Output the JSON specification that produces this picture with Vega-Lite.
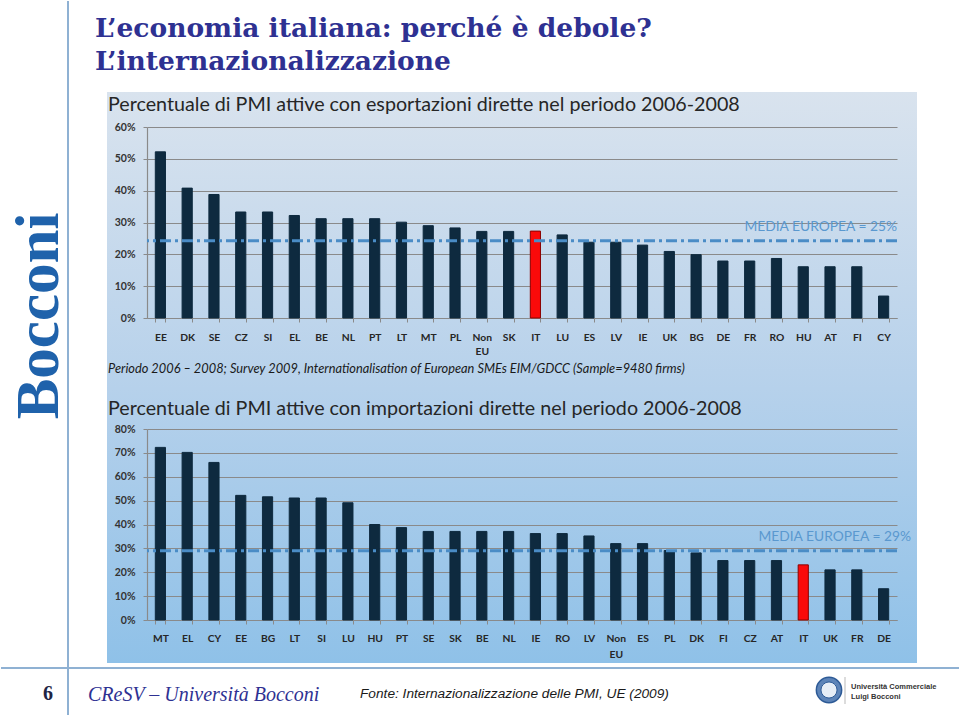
{
  "$schema": "https://vega.github.io/schema/vega-lite/v6.json",
  "padding": 0,
  "background": "white",
  "bounds": "flush",
  "spacing": 111,
  "config": {"view": {"stroke": null}, "font": "Lato"},
  "datasets": {
    "esportazioni": [
      {"paese": "EE", "quota": 52.2}, {"paese": "DK", "quota": 40.8}, {"paese": "SE", "quota": 38.8},
      {"paese": "CZ", "quota": 33.3}, {"paese": "SI", "quota": 33.3}, {"paese": "EL", "quota": 32.2},
      {"paese": "BE", "quota": 31.2}, {"paese": "NL", "quota": 31.2}, {"paese": "PT", "quota": 31.2},
      {"paese": "LT", "quota": 30.1}, {"paese": "MT", "quota": 29}, {"paese": "PL", "quota": 28.3},
      {"paese": "Non EU", "quota": 27.2}, {"paese": "SK", "quota": 27.2}, {"paese": "IT", "quota": 27.3},
      {"paese": "LU", "quota": 26.1}, {"paese": "ES", "quota": 23.8}, {"paese": "LV", "quota": 23.8},
      {"paese": "IE", "quota": 22.9}, {"paese": "UK", "quota": 20.9}, {"paese": "BG", "quota": 19.9},
      {"paese": "DE", "quota": 17.9}, {"paese": "FR", "quota": 17.9}, {"paese": "RO", "quota": 18.7},
      {"paese": "HU", "quota": 16.1}, {"paese": "AT", "quota": 16.1}, {"paese": "FI", "quota": 16.1},
      {"paese": "CY", "quota": 6.9}
    ],
    "importazioni": [
      {"paese": "MT", "quota": 72.3}, {"paese": "EL", "quota": 70.2}, {"paese": "CY", "quota": 66},
      {"paese": "EE", "quota": 52.2}, {"paese": "BG", "quota": 51.6}, {"paese": "LT", "quota": 51.1},
      {"paese": "SI", "quota": 51.1}, {"paese": "LU", "quota": 49.1}, {"paese": "HU", "quota": 40},
      {"paese": "PT", "quota": 38.7}, {"paese": "SE", "quota": 37.1}, {"paese": "SK", "quota": 37.1},
      {"paese": "BE", "quota": 37.1}, {"paese": "NL", "quota": 37.1}, {"paese": "IE", "quota": 36.2},
      {"paese": "RO", "quota": 36.2}, {"paese": "LV", "quota": 35.2}, {"paese": "Non EU", "quota": 32},
      {"paese": "ES", "quota": 32}, {"paese": "PL", "quota": 29.1}, {"paese": "DK", "quota": 28.1},
      {"paese": "FI", "quota": 24.9}, {"paese": "CZ", "quota": 24.9}, {"paese": "AT", "quota": 24.9},
      {"paese": "IT", "quota": 23.1}, {"paese": "UK", "quota": 21}, {"paese": "FR", "quota": 21},
      {"paese": "DE", "quota": 13.1}
    ]
  },
  "vconcat": [
    {
      "width": 750,
      "height": 16,
      "layer": [
        {
          "data": {"values": [{"elemento": "pannello"}]},
          "mark": {"type": "rect", "color": {"gradient": "linear", "x1": 0, "y1": 0, "x2": 0, "y2": 1, "stops": [{"offset": 0, "color": "#d9e3ee"}, {"offset": 0.52, "color": "#b6d1eb"}, {"offset": 1, "color": "#8fc1e8"}]}},
          "encoding": {
            "x": {"datum": 107, "type": "quantitative", "scale": {"domain": [147, 897], "nice": false, "zero": false}, "axis": null},
            "x2": {"datum": 917},
            "y": {"datum": 92, "type": "quantitative", "scale": {"domain": [0, 16], "reverse": true, "nice": false, "zero": false}, "axis": null},
            "y2": {"datum": 663}
          }
        },
        {
          "data": {"values": [{"elemento": "linea verticale"}]},
          "mark": {"type": "rule", "color": "#8fb1d3", "strokeWidth": 2},
          "encoding": {
            "x": {"datum": 68, "type": "quantitative", "scale": {"domain": [147, 897], "nice": false, "zero": false}, "axis": null},
            "y": {"datum": 1, "type": "quantitative", "scale": {"domain": [0, 16], "reverse": true, "nice": false, "zero": false}, "axis": null},
            "y2": {"datum": 715}
          }
        },
        {
          "data": {"values": [{"elemento": "linea orizzontale"}]},
          "mark": {"type": "rule", "color": "#8fb1d3", "strokeWidth": 2},
          "encoding": {
            "x": {"datum": 1, "type": "quantitative", "scale": {"domain": [147, 897], "nice": false, "zero": false}, "axis": null},
            "x2": {"datum": 959},
            "y": {"datum": 668, "type": "quantitative", "scale": {"domain": [0, 16], "reverse": true, "nice": false, "zero": false}, "axis": null}
          }
        },
        {
          "data": {"values": [{"testo": "L’economia italiana: perché è debole?\nL’internazionalizzazione"}]},
          "mark": {"type": "text", "align": "left", "baseline": "alphabetic", "lineBreak": "\n", "lineHeight": 33, "font": "DejaVu Serif", "fontWeight": "bold", "fontSize": 26.5, "color": "#2e3192"},
          "encoding": {
            "x": {"datum": 95, "type": "quantitative", "scale": {"domain": [147, 897], "nice": false, "zero": false}, "axis": null},
            "y": {"datum": 37, "type": "quantitative", "scale": {"domain": [0, 16], "reverse": true, "nice": false, "zero": false}, "axis": null},
            "text": {"field": "testo"}
          }
        },
        {
          "data": {"values": [{"testo": "Bocconi"}]},
          "mark": {"type": "text", "align": "center", "baseline": "alphabetic", "angle": 270, "font": "Liberation Serif", "fontWeight": "bold", "fontSize": 61, "color": "#1f62ab"},
          "encoding": {
            "x": {"datum": 58, "type": "quantitative", "scale": {"domain": [147, 897], "nice": false, "zero": false}, "axis": null},
            "y": {"datum": 316, "type": "quantitative", "scale": {"domain": [0, 16], "reverse": true, "nice": false, "zero": false}, "axis": null},
            "text": {"field": "testo"}
          }
        },
        {
          "data": {"values": [{"testo": "Periodo 2006 – 2008; Survey 2009, Internationalisation of European SMEs EIM/GDCC (Sample=9480 firms)"}]},
          "mark": {"type": "text", "align": "left", "baseline": "alphabetic", "font": "Lato", "fontStyle": "italic", "fontSize": 12.8, "color": "#1a1a1a"},
          "encoding": {
            "x": {"datum": 108, "type": "quantitative", "scale": {"domain": [147, 897], "nice": false, "zero": false}, "axis": null},
            "y": {"datum": 373, "type": "quantitative", "scale": {"domain": [0, 16], "reverse": true, "nice": false, "zero": false}, "axis": null},
            "text": {"field": "testo"}
          }
        },
        {
          "data": {"values": [{"testo": "6"}]},
          "mark": {"type": "text", "align": "center", "baseline": "alphabetic", "font": "Liberation Serif", "fontWeight": "bold", "fontSize": 20, "color": "#1f2444"},
          "encoding": {
            "x": {"datum": 48, "type": "quantitative", "scale": {"domain": [147, 897], "nice": false, "zero": false}, "axis": null},
            "y": {"datum": 700, "type": "quantitative", "scale": {"domain": [0, 16], "reverse": true, "nice": false, "zero": false}, "axis": null},
            "text": {"field": "testo"}
          }
        },
        {
          "data": {"values": [{"testo": "CReSV – Università Bocconi"}]},
          "mark": {"type": "text", "align": "left", "baseline": "alphabetic", "font": "Liberation Serif", "fontStyle": "italic", "fontSize": 20, "color": "#2e3192"},
          "encoding": {
            "x": {"datum": 88, "type": "quantitative", "scale": {"domain": [147, 897], "nice": false, "zero": false}, "axis": null},
            "y": {"datum": 701, "type": "quantitative", "scale": {"domain": [0, 16], "reverse": true, "nice": false, "zero": false}, "axis": null},
            "text": {"field": "testo"}
          }
        },
        {
          "data": {"values": [{"testo": "Fonte: Internazionalizzazione delle PMI, UE (2009)"}]},
          "mark": {"type": "text", "align": "left", "baseline": "alphabetic", "font": "Liberation Sans", "fontStyle": "italic", "fontSize": 13.7, "color": "#1a1a1a"},
          "encoding": {
            "x": {"datum": 360, "type": "quantitative", "scale": {"domain": [147, 897], "nice": false, "zero": false}, "axis": null},
            "y": {"datum": 698, "type": "quantitative", "scale": {"domain": [0, 16], "reverse": true, "nice": false, "zero": false}, "axis": null},
            "text": {"field": "testo"}
          }
        },
        {
          "data": {"values": [{"elemento": "stemma"}]},
          "mark": {"type": "point", "shape": "circle", "filled": true, "size": 640, "fill": "#5d84b8", "stroke": "#2d5a96", "strokeWidth": 1.5, "opacity": 1},
          "encoding": {
            "x": {"datum": 829, "type": "quantitative", "scale": {"domain": [147, 897], "nice": false, "zero": false}, "axis": null},
            "y": {"datum": 690, "type": "quantitative", "scale": {"domain": [0, 16], "reverse": true, "nice": false, "zero": false}, "axis": null}
          }
        },
        {
          "data": {"values": [{"elemento": "stemma interno"}]},
          "mark": {"type": "point", "shape": "circle", "filled": true, "size": 260, "fill": "#e6edf6", "stroke": "#2d5a96", "strokeWidth": 1, "opacity": 1},
          "encoding": {
            "x": {"datum": 829, "type": "quantitative", "scale": {"domain": [147, 897], "nice": false, "zero": false}, "axis": null},
            "y": {"datum": 690, "type": "quantitative", "scale": {"domain": [0, 16], "reverse": true, "nice": false, "zero": false}, "axis": null}
          }
        },
        {
          "data": {"values": [{"elemento": "separatore"}]},
          "mark": {"type": "rule", "color": "#b9b9b9", "strokeWidth": 1},
          "encoding": {
            "x": {"datum": 845, "type": "quantitative", "scale": {"domain": [147, 897], "nice": false, "zero": false}, "axis": null},
            "y": {"datum": 677, "type": "quantitative", "scale": {"domain": [0, 16], "reverse": true, "nice": false, "zero": false}, "axis": null},
            "y2": {"datum": 704}
          }
        },
        {
          "data": {"values": [{"testo": "Università Commerciale\nLuigi Bocconi"}]},
          "mark": {"type": "text", "align": "left", "baseline": "alphabetic", "lineBreak": "\n", "lineHeight": 10, "font": "Liberation Sans", "fontWeight": "bold", "fontSize": 7.5, "color": "#333333"},
          "encoding": {
            "x": {"datum": 851, "type": "quantitative", "scale": {"domain": [147, 897], "nice": false, "zero": false}, "axis": null},
            "y": {"datum": 689, "type": "quantitative", "scale": {"domain": [0, 16], "reverse": true, "nice": false, "zero": false}, "axis": null},
            "text": {"field": "testo"}
          }
        }
      ]
    },
    {
      "width": 750,
      "height": 191,
      "title": {"text": "Percentuale di PMI attive con esportazioni dirette nel periodo 2006-2008", "anchor": "start", "frame": "group", "dx": -39, "offset": -9, "baseline": "alphabetic", "font": "Lato", "fontSize": 19.7, "fontWeight": "normal", "color": "#262626"},
      "data": {"name": "esportazioni"},
      "layer": [
        {
          "mark": {"type": "bar", "strokeWidth": 1},
          "encoding": {
            "x": {"field": "paese", "type": "nominal", "sort": null,
              "scale": {"paddingInner": 0.62, "paddingOuter": 0.31},
              "axis": {"title": null, "labelAngle": 0, "labelFont": "Lato", "labelFontWeight": "bold", "labelFontSize": 10.3, "labelColor": "#262626", "labelPadding": 10, "labelLineHeight": 14, "labelExpr": "datum.label == 'Non EU' ? ['Non', 'EU'] : datum.label", "tickBand": "extent", "tickSize": 4, "tickColor": "#8a8a8a", "domainColor": "#8a8a8a", "domainWidth": 1.2}},
            "y": {"field": "quota", "type": "quantitative", "scale": {"domain": [0, 60], "nice": false},
              "axis": {"title": null, "values": [0, 10, 20, 30, 40, 50, 60], "labelOverlap": false, "labelExpr": "datum.value + '%'", "grid": true, "gridColor": "#8a8a8a", "gridWidth": 1.2, "domainColor": "#8a8a8a", "domainWidth": 1.2, "tickColor": "#8a8a8a", "tickSize": 4, "labelFont": "Lato", "labelFontWeight": "bold", "labelFontSize": 10.5, "labelColor": "#333333", "labelPadding": 8}},
            "color": {"condition": {"test": "datum.paese === 'IT'", "value": "#fa0a0a"}, "value": "#0e2a3f"},
            "stroke": {"condition": {"test": "datum.paese === 'IT'", "value": "#8a0000"}, "value": "#0e2a3f"}
          }
        },
        {
          "data": {"values": [{"media": 24.3, "etichetta": "MEDIA EUROPEA = 25%"}]},
          "mark": {"type": "rule", "color": "#4a8cc6", "strokeWidth": 3, "strokeDash": [11, 4, 3, 4]},
          "encoding": {"y": {"field": "media", "type": "quantitative", "scale": {"domain": [0, 60], "nice": false},
            "axis": {"title": null, "values": [0, 10, 20, 30, 40, 50, 60], "labelOverlap": false, "labelExpr": "datum.value + '%'", "grid": true, "gridColor": "#8a8a8a", "gridWidth": 1.2, "domainColor": "#8a8a8a", "domainWidth": 1.2, "tickColor": "#8a8a8a", "tickSize": 4, "labelFont": "Lato", "labelFontWeight": "bold", "labelFontSize": 10.5, "labelColor": "#333333", "labelPadding": 8}}}
        },
        {
          "data": {"values": [{"media": 24.3, "etichetta": "MEDIA EUROPEA = 25%"}]},
          "mark": {"type": "text", "align": "right", "baseline": "alphabetic", "dx": 375, "dy": -10, "font": "Lato", "fontSize": 13.8, "color": "#5a98cf"},
          "encoding": {
            "y": {"field": "media", "type": "quantitative", "scale": {"domain": [0, 60], "nice": false},
              "axis": {"title": null, "values": [0, 10, 20, 30, 40, 50, 60], "labelOverlap": false, "labelExpr": "datum.value + '%'", "grid": true, "gridColor": "#8a8a8a", "gridWidth": 1.2, "domainColor": "#8a8a8a", "domainWidth": 1.2, "tickColor": "#8a8a8a", "tickSize": 4, "labelFont": "Lato", "labelFontWeight": "bold", "labelFontSize": 10.5, "labelColor": "#333333", "labelPadding": 8}},
            "text": {"field": "etichetta"}
          }
        }
      ]
    },
    {
      "width": 750,
      "height": 191,
      "title": {"text": "Percentuale di PMI attive con importazioni dirette nel periodo 2006-2008", "anchor": "start", "frame": "group", "dx": -39, "offset": -11, "baseline": "alphabetic", "font": "Lato", "fontSize": 19.7, "fontWeight": "normal", "color": "#262626"},
      "data": {"name": "importazioni"},
      "layer": [
        {
          "mark": {"type": "bar", "strokeWidth": 1},
          "encoding": {
            "x": {"field": "paese", "type": "nominal", "sort": null,
              "scale": {"paddingInner": 0.62, "paddingOuter": 0.31},
              "axis": {"title": null, "labelAngle": 0, "labelFont": "Lato", "labelFontWeight": "bold", "labelFontSize": 10.3, "labelColor": "#262626", "labelPadding": 9, "labelLineHeight": 16, "labelExpr": "datum.label == 'Non EU' ? ['Non', 'EU'] : datum.label", "tickBand": "extent", "tickSize": 4, "tickColor": "#8a8a8a", "domainColor": "#8a8a8a", "domainWidth": 1.2}},
            "y": {"field": "quota", "type": "quantitative", "scale": {"domain": [0, 80], "nice": false},
              "axis": {"title": null, "values": [0, 10, 20, 30, 40, 50, 60, 70, 80], "labelOverlap": false, "labelExpr": "datum.value + '%'", "grid": true, "gridColor": "#8a8a8a", "gridWidth": 1.2, "domainColor": "#8a8a8a", "domainWidth": 1.2, "tickColor": "#8a8a8a", "tickSize": 4, "labelFont": "Lato", "labelFontWeight": "bold", "labelFontSize": 10.5, "labelColor": "#333333", "labelPadding": 8}},
            "color": {"condition": {"test": "datum.paese === 'IT'", "value": "#fa0a0a"}, "value": "#0e2a3f"},
            "stroke": {"condition": {"test": "datum.paese === 'IT'", "value": "#8a0000"}, "value": "#0e2a3f"}
          }
        },
        {
          "data": {"values": [{"media": 29, "etichetta": "MEDIA EUROPEA = 29%"}]},
          "mark": {"type": "rule", "color": "#4a8cc6", "strokeWidth": 3, "strokeDash": [11, 4, 3, 4]},
          "encoding": {"y": {"field": "media", "type": "quantitative", "scale": {"domain": [0, 80], "nice": false},
            "axis": {"title": null, "values": [0, 10, 20, 30, 40, 50, 60, 70, 80], "labelOverlap": false, "labelExpr": "datum.value + '%'", "grid": true, "gridColor": "#8a8a8a", "gridWidth": 1.2, "domainColor": "#8a8a8a", "domainWidth": 1.2, "tickColor": "#8a8a8a", "tickSize": 4, "labelFont": "Lato", "labelFontWeight": "bold", "labelFontSize": 10.5, "labelColor": "#333333", "labelPadding": 8}}}
        },
        {
          "data": {"values": [{"media": 29, "etichetta": "MEDIA EUROPEA = 29%"}]},
          "mark": {"type": "text", "align": "right", "baseline": "alphabetic", "dx": 389, "dy": -10, "font": "Lato", "fontSize": 13.8, "color": "#5a98cf"},
          "encoding": {
            "y": {"field": "media", "type": "quantitative", "scale": {"domain": [0, 80], "nice": false},
              "axis": {"title": null, "values": [0, 10, 20, 30, 40, 50, 60, 70, 80], "labelOverlap": false, "labelExpr": "datum.value + '%'", "grid": true, "gridColor": "#8a8a8a", "gridWidth": 1.2, "domainColor": "#8a8a8a", "domainWidth": 1.2, "tickColor": "#8a8a8a", "tickSize": 4, "labelFont": "Lato", "labelFontWeight": "bold", "labelFontSize": 10.5, "labelColor": "#333333", "labelPadding": 8}},
            "text": {"field": "etichetta"}
          }
        }
      ]
    }
  ]
}
